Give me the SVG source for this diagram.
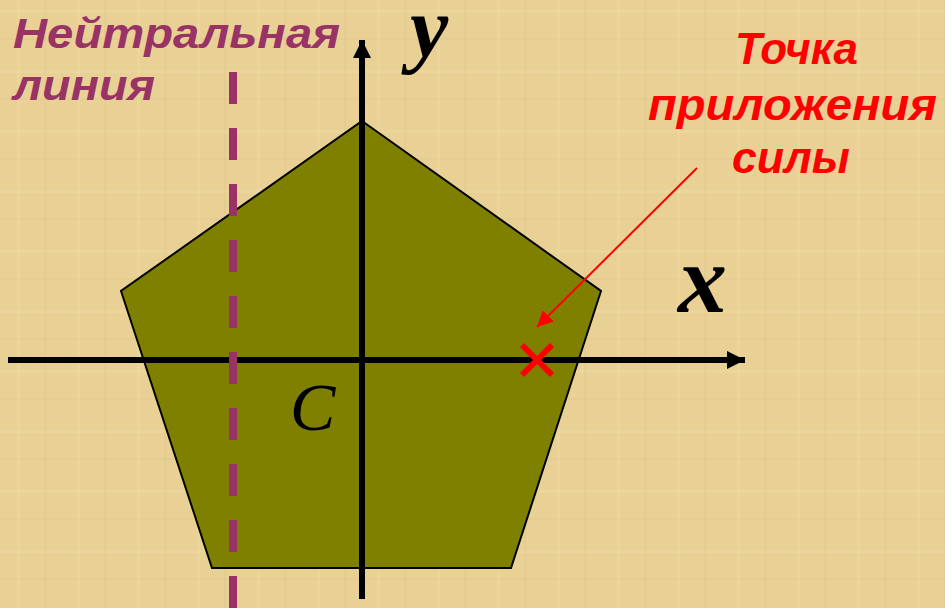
<svg xmlns="http://www.w3.org/2000/svg" width="945" height="608" viewBox="0 0 945 608">
<defs>
<style>
.lbl{font-family:"Liberation Sans",Arial,sans-serif;font-weight:bold;font-style:italic}
.math{font-family:"Liberation Serif","Times New Roman",serif;font-style:italic}
</style>
<marker id="ah" viewBox="0 0 10 10" refX="10" refY="5" markerWidth="3" markerHeight="3" orient="auto" markerUnits="strokeWidth"><path d="M0,0 L10,5 L0,10 z" fill="#000"/></marker>
<marker id="rh" viewBox="0 0 10 10" refX="10" refY="5" markerWidth="8" markerHeight="8" orient="auto" markerUnits="strokeWidth"><path d="M0,0 L10,5 L0,10 z" fill="#f00"/></marker>
<pattern id="tex" width="60" height="60" patternUnits="userSpaceOnUse">
<rect width="60" height="60" fill="#E9D196"/>
<rect x="0" y="10" width="60" height="3" fill="#F0DBA6" opacity="0.4"/>
<rect x="0" y="38" width="60" height="2" fill="#DCC288" opacity="0.3"/>
<rect x="17" y="0" width="3" height="60" fill="#F0DBA6" opacity="0.35"/>
<rect x="44" y="0" width="2" height="60" fill="#DCC288" opacity="0.3"/>
</pattern>
</defs>
<rect width="945" height="608" fill="url(#tex)"/>
<g id="pentagon"><polygon points="362,121 601,291 511,568 212,568 121,291" fill="#808000" stroke="#000" stroke-width="2"/></g>
<g id="connectors">
<line id="x-axis" x1="8" y1="360" x2="745" y2="360" stroke="#000" stroke-width="6" marker-end="url(#ah)"/>
<line id="y-axis" x1="362" y1="599" x2="362" y2="40" stroke="#000" stroke-width="6" marker-end="url(#ah)"/>
<line id="neutral" x1="233" y1="72" x2="233" y2="608" stroke="#993366" stroke-width="8" stroke-dasharray="32 24"/>
<line id="force-arrow" x1="697" y1="168" x2="537" y2="327" stroke="#f00" stroke-width="2" marker-end="url(#rh)"/>
</g>
<g id="force-point"><path d="M522,345 L552,375 M552,345 L522,375" stroke="#f00" stroke-width="6"/></g>
<g id="label-neutral"><text class="lbl" x="13" y="48" font-size="42" fill="#993366" textLength="327" lengthAdjust="spacingAndGlyphs">Нейтральная</text><text class="lbl" x="13" y="100" font-size="42" fill="#993366" textLength="142" lengthAdjust="spacingAndGlyphs">линия</text></g>
<g id="label-force" class="lbl" font-size="45" fill="#f00"><text x="735" y="64" textLength="123" lengthAdjust="spacingAndGlyphs">Точка</text><text x="648" y="120" textLength="289" lengthAdjust="spacingAndGlyphs">приложения</text><text x="732" y="173" textLength="118" lengthAdjust="spacingAndGlyphs">силы</text></g>
<g id="label-y"><text class="math" x="410" y="56" font-size="86" font-weight="bold">y</text></g>
<g id="label-x"><text class="math" x="678" y="312" font-size="98" font-weight="bold">x</text></g>
<g id="label-c"><text class="math" x="290" y="430" font-size="68">C</text></g>
</svg>
